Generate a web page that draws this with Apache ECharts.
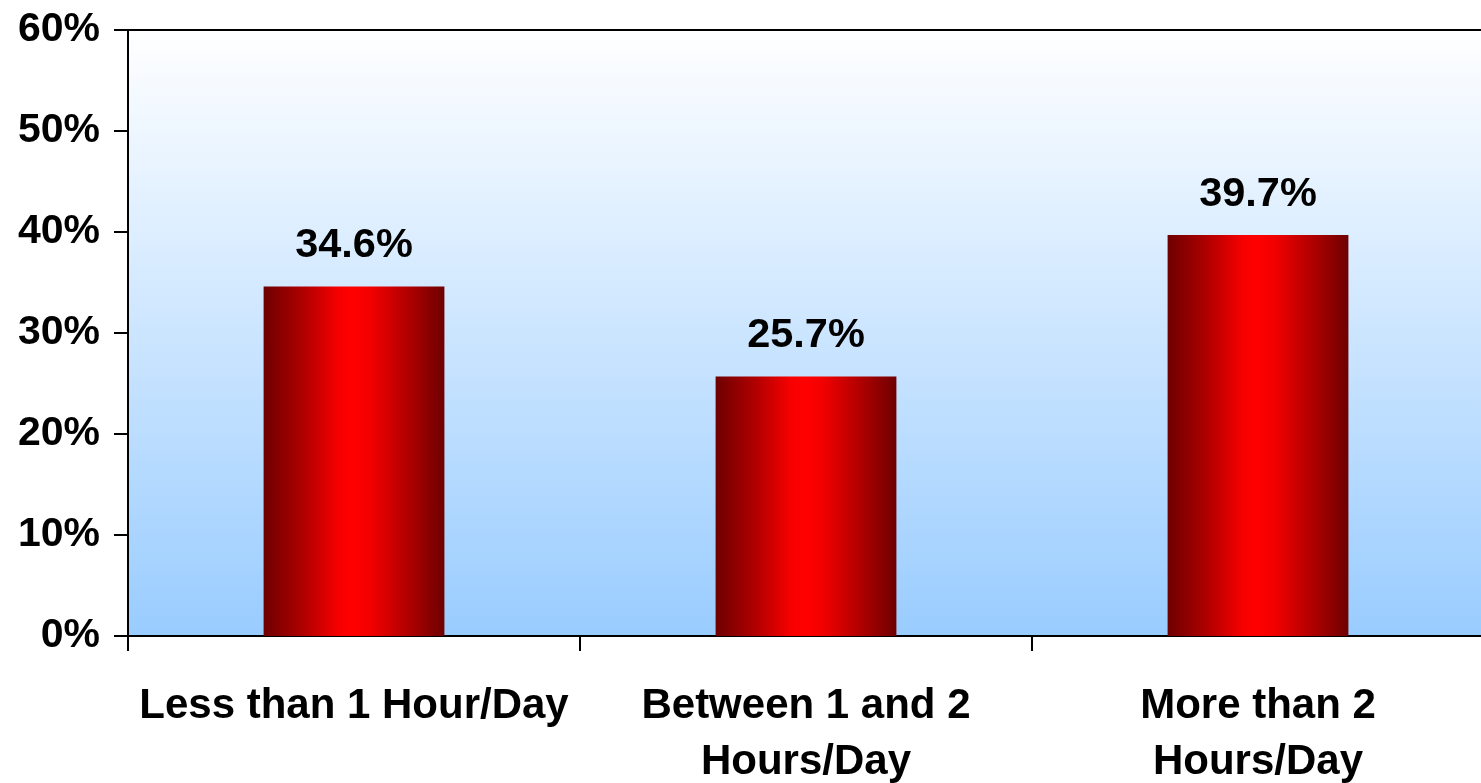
<!DOCTYPE html>
<html>
<head>
<meta charset="utf-8">
<script src="https://cdn.jsdelivr.net/npm/echarts@6/dist/echarts.min.js"></script>
<style>
  html, body { margin: 0; padding: 0; background: #ffffff; }
  #chart { width: 1481px; height: 783px; }
</style>
</head>
<body>
<div id="chart"></div>
<script>
// Time spent per day — share of respondents
const categories = ['Less than 1 Hour/Day', 'Between 1 and 2\nHours/Day', 'More than 2\nHours/Day'];
const shares = [34.6, 25.7, 39.7];
const yTicks = { min: 0, max: 60, interval: 10 };

const FONT = '"Liberation Sans", Arial, sans-serif';

const chart = echarts.init(document.getElementById('chart'), null, { renderer: 'canvas' });

chart.setOption({
  animation: false,
  grid: {
    left: 128,
    right: -3,
    top: 30,
    bottom: 147,
    outerBoundsMode: 'none',
    containLabel: false,
    show: true,
    borderColor: '#000000',
    borderWidth: 2,
    backgroundColor: {
      type: 'linear', x: 0, y: 0, x2: 0, y2: 1,
      colorStops: [
        { offset: 0, color: '#ffffff' },
        { offset: 1, color: '#99ccff' }
      ]
    }
  },
  xAxis: {
    type: 'category',
    data: categories,
    axisLine: { lineStyle: { color: '#000000', width: 2 } },
    axisTick: { show: true, length: 15, lineStyle: { color: '#000000', width: 2 } },
    axisLabel: {
      color: '#000000',
      fontFamily: FONT,
      fontWeight: 'bold',
      fontSize: 42,
      lineHeight: 56,
      margin: 42,
      interval: 0
    }
  },
  yAxis: {
    type: 'value',
    min: yTicks.min,
    max: yTicks.max,
    interval: yTicks.interval,
    splitLine: { show: false },
    axisLine: { show: true, lineStyle: { color: '#000000', width: 2 } },
    axisTick: { show: true, length: 14, lineStyle: { color: '#000000', width: 2 } },
    axisLabel: {
      color: '#000000',
      fontFamily: FONT,
      fontWeight: 'bold',
      fontSize: 41,
      margin: 28,
      formatter: v => v + '%'
    }
  },
  series: [{
    type: 'bar',
    data: shares,
    barWidth: '40%',
    itemStyle: {
      // cylinder-like shading: dark maroon edges, bright red centre
      color: {
        type: 'linear', x: 0, y: 0, x2: 1, y2: 0,
        colorStops: [
          { offset: 0, color: '#6e0000' },
          { offset: 0.22, color: '#b00000' },
          { offset: 0.42, color: '#f80000' },
          { offset: 0.5, color: '#ff0000' },
          { offset: 0.6, color: '#f00000' },
          { offset: 0.8, color: '#b00000' },
          { offset: 1, color: '#6e0000' }
        ]
      }
    },
    label: {
      show: true,
      position: 'top',
      distance: 20,
      color: '#000000',
      fontFamily: FONT,
      fontWeight: 'bold',
      fontSize: 41.5,
      lineHeight: 41,
      formatter: p => p.value.toFixed(1) + '%'
    }
  }]
});
</script>
</body>
</html>
